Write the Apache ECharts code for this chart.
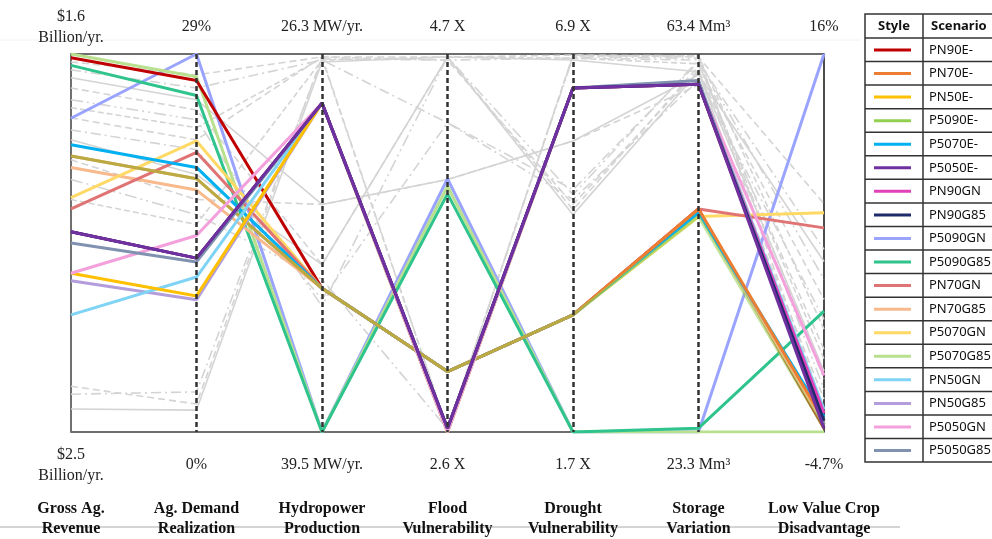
<!DOCTYPE html>
<html>
<head>
<meta charset="utf-8">
<script src="https://cdn.jsdelivr.net/npm/echarts@6/dist/echarts.min.js"></script>
<style>
    html, body { margin: 0; padding: 0; background: #fff; }
    #chart { width: 992px; height: 539px; }
</style>
</head>
<body>
<div id="chart"></div>
<script>
// objective names and the range printed at each end of the axis
const objective_names = ['Gross Ag.\nRevenue', 'Ag. Demand\nRealization', 'Hydropower\nProduction',
    'Flood\nVulnerability', 'Drought\nVulnerability', 'Storage\nVariation', 'Low Value Crop\nDisadvantage'];
const top_labels = ['$1.6\nBillion/yr.', '29%', '26.3 MW/yr.', '4.7 X', '6.9 X', '63.4 Mm³', '16%'];
const bottom_labels = ['$2.5\nBillion/yr.', '0%', '39.5 MW/yr.', '2.6 X', '1.7 X', '23.3 Mm³', '-4.7%'];

// position on each axis, 0 = bottom label, 1 = top label
const scenario_names = ['PN90E-', 'PN70E-', 'PN50E-', 'P5090E-', 'P5070E-', 'P5050E-', 'PN90GN', 'PN90G85',
    'P5090GN', 'P5090G85', 'PN70GN', 'PN70G85', 'P5070GN', 'P5070G85', 'PN50GN', 'PN50G85', 'P5050GN', 'P5050G85'];
const scenario_colors = ['#c00000', '#ed7d31', '#ffc000', '#92d050', '#00b0f0', '#7030a0', '#e040b8', '#1f2a6b',
    '#9aa4ff', '#2fc48d', '#e07373', '#f8b98c', '#ffd966', '#b8e08e', '#7fd3f5', '#b39ddb', '#f4a0dc', '#8092b0'];
const scenario_values = [
    [0.99, 0.93, 0.38, 0.16, 0.31, 0.59, 0.01],   // PN90E-
    [0.73, 0.67, 0.38, 0.16, 0.31, 0.59, 0.03],   // PN70E-
    [0.42, 0.36, 0.87, 0.00, 0.91, 0.92, 0.02],   // PN50E-
    [0.73, 0.67, 0.38, 0.16, 0.31, 0.57, 0.01],   // P5090E-
    [0.76, 0.70, 0.38, 0.16, 0.31, 0.58, 0.04],   // P5070E-
    [0.53, 0.46, 0.87, 0.01, 0.91, 0.92, 0.01],   // P5050E-
    [0.53, 0.46, 0.87, 0.01, 0.91, 0.92, 0.05],   // PN90GN
    [0.53, 0.46, 0.87, 0.01, 0.91, 0.92, 0.03],   // PN90G85
    [0.83, 1.00, 0.00, 0.67, 0.00, 0.00, 1.00],   // P5090GN
    [0.97, 0.89, 0.00, 0.63, 0.00, 0.01, 0.32],   // P5090G85
    [0.59, 0.74, 0.38, 0.16, 0.31, 0.59, 0.54],   // PN70GN
    [0.70, 0.64, 0.38, 0.16, 0.31, 0.58, 0.02],   // PN70G85
    [0.62, 0.77, 0.38, 0.16, 0.31, 0.57, 0.58],   // P5070GN
    [1.00, 0.94, 0.00, 0.65, 0.00, 0.00, 0.00],   // P5070G85
    [0.31, 0.41, 0.87, 0.00, 0.91, 0.92, 0.06],   // PN50GN
    [0.40, 0.35, 0.87, 0.00, 0.91, 0.92, 0.02],   // PN50G85
    [0.42, 0.52, 0.87, 0.00, 0.91, 0.92, 0.15],   // P5050GN
    [0.50, 0.45, 0.87, 0.01, 0.91, 0.93, 0.02]    // P5050G85
];
// order the scenarios are painted in (last one on top)
const draw_order = ['P5090GN', 'P5070G85', 'P5090G85', 'PN90E-', 'PN70G85', 'P5070GN', 'PN70GN', 'P5070E-',
    'PN70E-', 'P5090E-', 'PN50G85', 'PN50GN', 'PN50E-', 'P5050GN', 'PN90GN', 'P5050G85', 'PN90G85', 'P5050E-'];

// other solutions of the search, drawn grey behind
const other_solutions = [
    [0.979, 0.945, 0.992, 0.992, 0.997, 0.992, 0.604],
    [0.958, 0.910, 0.984, 0.818, 0.641, 0.979, 0.483],
    [0.937, 0.879, 0.602, 0.668, 0.770, 0.945, 0.451],
    [0.910, 0.852, 0.443, 0.992, 0.588, 0.968, 0.351],
    [0.879, 0.826, 0.332, 0.992, 0.628, 0.984, 0.404],
    [0.858, 0.805, 0.989, 0.008, 0.995, 0.995, 0.272],
    [0.831, 0.773, 0.992, 0.984, 0.602, 0.958, 0.219],
    [0.799, 0.747, 0.351, 0.818, 0.615, 0.931, 0.298],
    [0.773, 0.681, 0.443, 0.992, 0.575, 0.953, 0.161],
    [0.720, 0.615, 0.602, 0.668, 0.770, 0.918, 0.087],
    [0.668, 0.575, 0.404, 0.008, 0.992, 0.989, 0.113],
    [0.615, 0.549, 0.984, 0.992, 0.989, 0.974, 0.193],
    [0.121, 0.074, 0.992, 0.008, 0.997, 0.995, 0.061],
    [0.100, 0.106, 0.987, 0.984, 0.989, 0.984, 0.140],
    [0.061, 0.058, 0.979, 0.992, 0.984, 0.953, 0.034]
];

let grey_dashes = [[7, 4], [10, 4, 2, 4], 'solid', [7, 4], [12, 4, 2, 4, 2, 4], [6, 3]];
let serif = 'Liberation Serif';

let build_series = function () {
    let series = [];
    other_solutions.forEach(function (row, i) {
        series.push({
            type: 'line',
            data: row,
            symbol: 'none',
            silent: true,
            z: 1,
            lineStyle: {color: '#d4d4d4', width: 1.6, type: grey_dashes[i % grey_dashes.length]}
        });
    });
    draw_order.forEach(function (name) {
        let i = scenario_names.indexOf(name);
        series.push({
            name: name,
            type: 'line',
            data: scenario_values[i],
            symbol: 'none',
            color: scenario_colors[i],
            z: 2,
            // the green run is see-through, so where it lies on the orange one the pair reads olive
            lineStyle: {color: scenario_colors[i], width: 3, opacity: name === 'P5090E-' ? 0.55 : 1}
        });
    });
    return series;
};

// legend table frame
let table_left = 865, table_top = 14, header_h = 24, row_h = 23.56, split_x = 923;
let build_table = function () {
    let bottom = table_top + header_h + row_h * scenario_names.length;
    let items = [
        {type: 'rect', shape: {x: table_left, y: table_top, width: 150, height: bottom - table_top},
            style: {fill: null, stroke: '#333', lineWidth: 1.5}},
        {type: 'line', shape: {x1: split_x, y1: table_top, x2: split_x, y2: bottom},
            style: {stroke: '#333', lineWidth: 1.5}},
        {type: 'text', x: (table_left + split_x) / 2, y: table_top + header_h / 2,
            style: {text: 'Style', fontFamily: 'Noto Sans', fontWeight: 'bold', fontSize: 13, fill: '#111',
                align: 'center', verticalAlign: 'middle'}},
        {type: 'text', x: split_x + 8, y: table_top + header_h / 2,
            style: {text: 'Scenario', fontFamily: 'Noto Sans', fontWeight: 'bold', fontSize: 13, fill: '#111',
                align: 'left', verticalAlign: 'middle'}},
        {type: 'line', shape: {x1: 0, y1: 527, x2: 900, y2: 527}, style: {stroke: '#aaa', lineWidth: 1}},
        {type: 'line', shape: {x1: 0, y1: 40, x2: 860, y2: 40}, style: {stroke: '#f2f2f2', lineWidth: 1}}
    ];
    for (let r = 0; r < scenario_names.length; r++) {
        let y = table_top + header_h + row_h * r;
        items.push({type: 'line', shape: {x1: table_left, y1: y, x2: 1000, y2: y},
            style: {stroke: '#333', lineWidth: 1.5}});
    }
    return items;
};

let chart = echarts.init(document.getElementById('chart'));
let split_colors = objective_names.map(function (n, i) {
    return (i === 0 || i === objective_names.length - 1) ? 'rgba(0,0,0,0)' : '#333';
});

let option = {
    animation: false,
    backgroundColor: '#fff',
    grid: {left: 71, right: 168, top: 54, bottom: 106},
    legend: {
        data: scenario_names,
        orient: 'vertical',
        left: 874,
        top: 40,
        padding: 0,
        icon: 'rect',
        itemWidth: 37,
        itemHeight: 3,
        itemGap: row_h - 20,
        selectedMode: false,
        textStyle: {fontFamily: 'Noto Sans', fontSize: 13, color: '#111', lineHeight: 20, padding: [0, 0, 0, 13]}
    },
    xAxis: [
        {
            type: 'category', data: bottom_labels, boundaryGap: false, position: 'bottom', z: 3,
            axisLine: {show: false}, axisTick: {show: false},
            axisLabel: {interval: 0, margin: 33, verticalAlign: 'middle', lineHeight: 21,
                fontFamily: serif, fontSize: 16, color: '#222'},
            splitLine: {show: true, interval: 0, lineStyle: {color: split_colors, width: 2.5, type: [5, 3]}}
        },
        {
            type: 'category', data: top_labels, boundaryGap: false, position: 'top',
            axisLine: {show: false}, axisTick: {show: false},
            axisLabel: {interval: 0, margin: 27, verticalAlign: 'middle', lineHeight: 21,
                fontFamily: serif, fontSize: 16, color: '#222'}
        },
        {
            type: 'category', data: objective_names, boundaryGap: false, position: 'bottom',
            axisLine: {show: false}, axisTick: {show: false},
            axisLabel: {interval: 0, margin: 87, verticalAlign: 'middle', lineHeight: 20,
                fontFamily: serif, fontWeight: 'bold', fontSize: 16, color: '#111'}
        }
    ],
    yAxis: [
        {
            type: 'value', min: 0, max: 1, interval: 1, position: 'left',
            axisLine: {show: true, lineStyle: {color: '#707070', width: 2}},
            axisTick: {show: false}, axisLabel: {show: false},
            splitLine: {show: true, lineStyle: {color: '#6e6e6e', width: 2}}
        },
        {
            type: 'value', min: 0, max: 1, interval: 1, position: 'right',
            axisLine: {show: true, lineStyle: {color: '#111', width: 1.5}},
            axisTick: {show: false}, axisLabel: {show: false}, splitLine: {show: false}
        }
    ],
    graphic: build_table(),
    series: build_series()
};

chart.setOption(option);
</script>
</body>
</html>
